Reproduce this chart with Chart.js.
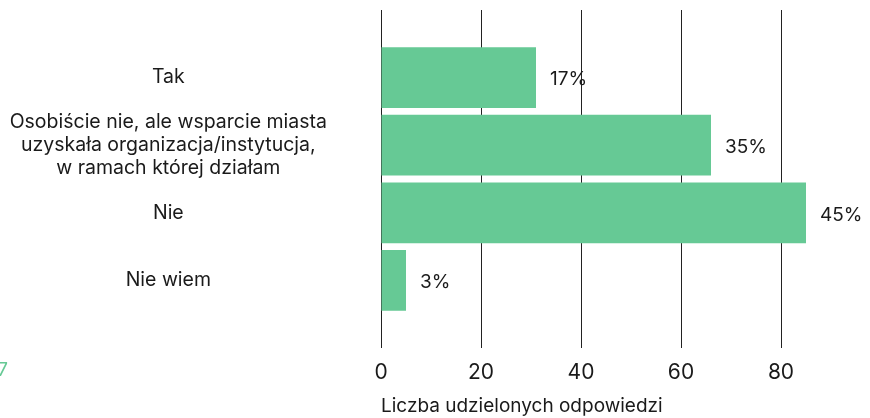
<!DOCTYPE html>
<html>
<head>
<meta charset="utf-8">
<script src="https://cdn.jsdelivr.net/npm/chart.js@4/dist/chart.umd.min.js"></script>
<style>
  html, body { margin: 0; padding: 0; background: #fff; overflow: hidden; }
  #wrap { position: relative; width: 870px; height: 418px; }
</style>
</head>
<body>
<div id="wrap"><canvas id="chart"></canvas></div>
<script>
// answers (Polish), counts of responses
const CATEGORIES = [
    'Tak',
    ['Osobiście nie, ale wsparcie miasta', 'uzyskała organizacja/instytucja,', 'w ramach której działam'],
    'Nie',
    'Nie wiem'
];
const COUNTS = [31, 66, 85, 5];
const X_TICKS = [0, 20, 40, 60, 80];
const X_TITLE = 'Liczba udzielonych odpowiedzi';
const N_LABEL = 'N = 187';

const GREEN = '#66c995';
const INK = '#1a1a1a';
const FONT = 'Inter, "Noto Sans", sans-serif';

const total = COUNTS.reduce((a, b) => a + b, 0);
const pct = COUNTS.map(v => Math.round(v / total * 100) + '%');

// empty slot above and below so the bars sit one full step in from the edges
const labels = ['', ...CATEGORIES, ''];
const values = [null, ...COUNTS, null];
const pctLabels = [null, ...pct, null];

const valueLabels = {
    id: 'valueLabels',
    afterDatasetsDraw(chart) {
        const ctx = chart.ctx;
        const meta = chart.getDatasetMeta(0);
        ctx.save();
        ctx.font = '19px ' + FONT;
        ctx.fillStyle = INK;
        ctx.textAlign = 'left';
        ctx.textBaseline = 'middle';
        meta.data.forEach((bar, i) => {
            if (values[i] == null) return;
            ctx.fillText(pctLabels[i], bar.x + 14, bar.y + 2);
        });
        ctx.restore();
    }
};

const sampleNote = {
    id: 'sampleNote',
    afterDraw(chart) {
        const ctx = chart.ctx;
        ctx.save();
        ctx.font = '19px ' + FONT;
        ctx.fillStyle = GREEN;
        ctx.textAlign = 'right';
        ctx.textBaseline = 'middle';
        ctx.fillText(N_LABEL, 8, chart.chartArea.bottom + 22);
        ctx.restore();
    }
};

new Chart(document.getElementById('chart'), {
    type: 'bar',
    data: {
        labels: labels,
        datasets: [{
            data: values,
            backgroundColor: GREEN,
            borderWidth: 0,
            barPercentage: 0.9,
            categoryPercentage: 1
        }]
    },
    options: {
        indexAxis: 'y',
        responsive: true,
        maintainAspectRatio: false,
        animation: false,
        layout: { padding: { top: 10, right: 0, bottom: 0, left: 0 } },
        plugins: { legend: { display: false }, tooltip: { enabled: false } },
        scales: {
            x: {
                min: 0,
                max: 97.8,
                ticks: { stepSize: 20, color: INK, font: { family: FONT, size: 21 }, padding: 12 },
                afterBuildTicks: (s) => { s.ticks = s.ticks.filter(t => X_TICKS.includes(t.value)); },
                afterFit: (s) => { s.height = 70; s.paddingLeft = 0; s.paddingRight = 0; },
                grid: { color: '#222222', lineWidth: 1, drawTicks: false },
                border: { display: false },
                title: { display: true, text: X_TITLE, align: 'start', color: INK, font: { family: FONT, size: 19 }, padding: { top: 6, bottom: 0 } }
            },
            y: {
                offset: false,
                grid: { display: false, drawTicks: false },
                border: { display: false },
                ticks: { color: INK, crossAlign: 'center', padding: 54, autoSkip: false, font: { family: FONT, size: 19.5, lineHeight: 1.2 } },
                afterFit: (s) => { s.width = 381; s.paddingTop = 0; s.paddingBottom = 0; }
            }
        }
    },
    plugins: [valueLabels, sampleNote]
});
</script>
</body>
</html>
